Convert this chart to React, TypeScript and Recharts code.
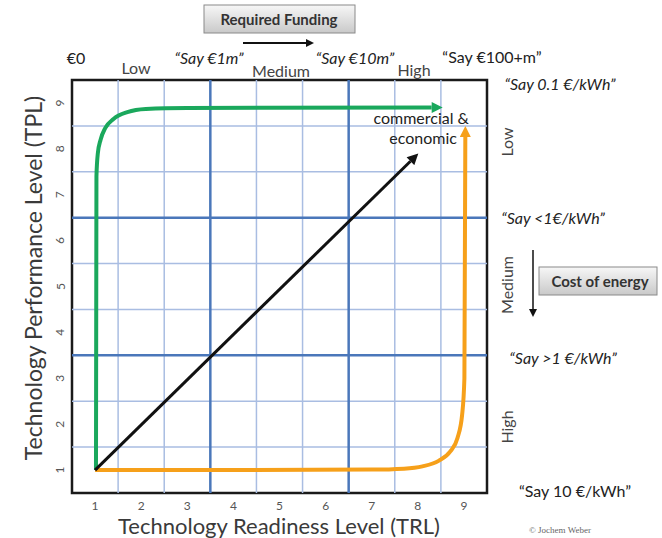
import React from "react";
import {
  LineChart,
  Line,
  XAxis,
  YAxis,
  ReferenceLine,
  ReferenceArea
} from "recharts";

// tick labels on both axes
const trlTicks = [1, 2, 3, 4, 5, 6, 7, 8, 9];
const tplTicks = [1, 2, 3, 4, 5, 6, 7, 8, 9];

// grid lines sit between the integer levels
const minorGrid = [1.5, 2.5, 4.5, 5.5, 7.5, 8.5];
const majorGrid = [3.5, 6.5];

// green: performance first, then readiness
const performanceFirst = [
  { x: 1.02, y: 1 },
  { x: 1.03, y: 7.4 },
  { x: 1.06, y: 7.9 },
  { x: 1.12, y: 8.2 },
  { x: 1.22, y: 8.45 },
  { x: 1.4, y: 8.65 },
  { x: 1.7, y: 8.8 },
  { x: 2.1, y: 8.87 },
  { x: 3, y: 8.89 },
  { x: 8.3, y: 8.9 }
];

// orange: readiness first, then performance
const readinessFirst = [
  { x: 1, y: 1 },
  { x: 4, y: 1 },
  { x: 7, y: 1.01 },
  { x: 7.7, y: 1.03 },
  { x: 8.1, y: 1.08 },
  { x: 8.45, y: 1.2 },
  { x: 8.7, y: 1.4 },
  { x: 8.86, y: 1.7 },
  { x: 8.96, y: 2.2 },
  { x: 9.01, y: 3 },
  { x: 9.03, y: 8.26 }
];

// black: balanced path
const balancedPath = [
  { x: 1, y: 1 },
  { x: 7.84, y: 7.73 }
];

const GREEN = "#1aa85c";
const ORANGE = "#f6a01a";
const MINOR = "#a9bde2";
const MAJOR = "#4a77ba";
const FONT = "Lato, 'Open Sans', sans-serif";

const RotatedTick = (props: any) => {
  const { x, y, payload } = props;
  const cx = x - 4;
  return (
    <text
      x={cx}
      y={y}
      transform={`rotate(-90 ${cx} ${y})`}
      textAnchor="middle"
      dominantBaseline="central"
      fontSize={12}
      fontFamily={FONT}
      fill="#555"
    >
      {payload.value}
    </text>
  );
};

const txt = {
  fontFamily: FONT,
  fontSize: 16,
  fill: "#222"
};

const Arrows = () => (
  <svg width={0} height={0} style={{ position: "absolute" }}>
    <defs>
      <marker id="arrowGreen" viewBox="0 0 10 10" refX="0" refY="5" markerWidth="12" markerHeight="11" markerUnits="userSpaceOnUse" orient="auto">
        <path d="M0,0 L10,5 L0,10 z" fill={GREEN} />
      </marker>
      <marker id="arrowOrange" viewBox="0 0 10 10" refX="0" refY="5" markerWidth="12" markerHeight="11" markerUnits="userSpaceOnUse" orient="auto">
        <path d="M0,0 L10,5 L0,10 z" fill={ORANGE} />
      </marker>
      <marker id="arrowBlack" viewBox="0 0 10 10" refX="0" refY="5" markerWidth="12" markerHeight="11" markerUnits="userSpaceOnUse" orient="auto">
        <path d="M0,0 L10,5 L0,10 z" fill="#111" />
      </marker>
      <marker id="arrowSmall" viewBox="0 0 10 10" refX="0" refY="5" markerWidth="9" markerHeight="8" markerUnits="userSpaceOnUse" orient="auto">
        <path d="M0,0 L10,5 L0,10 z" fill="#111" />
      </marker>
      <linearGradient id="boxFill" x1="0" y1="0" x2="0" y2="1">
        <stop offset="0%" stopColor="#f7f7f7" />
        <stop offset="100%" stopColor="#c9c9c9" />
      </linearGradient>
    </defs>
  </svg>
);

const Annotations = () => (
  <svg
    width={662}
    height={538}
    style={{ position: "absolute", left: 0, top: 0, pointerEvents: "none" }}
  >
    {/* funding scale along the top */}
    <rect x={204} y={5} width={151} height={28} fill="url(#boxFill)" stroke="#8a8a8a" strokeWidth={1} />
    <text x={279} y={19} textAnchor="middle" dominantBaseline="central" {...txt} fontSize={15} fontWeight="bold" fill="#333">
      Required Funding
    </text>
    <line x1={243} y1={43} x2={306} y2={43} stroke="#111" strokeWidth={2} markerEnd="url(#arrowSmall)" />
    <text x={76} y={57} textAnchor="middle" dominantBaseline="central" {...txt}>€0</text>
    <text x={136} y={67} textAnchor="middle" dominantBaseline="central" {...txt} fill="#444">Low</text>
    <text x={209} y={57} textAnchor="middle" dominantBaseline="central" {...txt} fontStyle="italic">“Say €1m”</text>
    <text x={281} y={70} textAnchor="middle" dominantBaseline="central" {...txt} fill="#444">Medium</text>
    <text x={355} y={57} textAnchor="middle" dominantBaseline="central" {...txt} fontStyle="italic">“Say €10m”</text>
    <text x={414} y={69} textAnchor="middle" dominantBaseline="central" {...txt} fill="#444">High</text>
    <text x={492} y={56} textAnchor="middle" dominantBaseline="central" {...txt}>“Say €100+m”</text>

    {/* cost of energy scale on the right */}
    <text x={560} y={83} textAnchor="middle" dominantBaseline="central" {...txt} fontStyle="italic">“Say 0.1 €/kWh”</text>
    <text x={506} y={142} transform="rotate(-90 506 142)" textAnchor="middle" dominantBaseline="central" {...txt} fill="#444">Low</text>
    <text x={553} y={217} textAnchor="middle" dominantBaseline="central" {...txt} fontStyle="italic">“Say &lt;1€/kWh”</text>
    <text x={506} y={285} transform="rotate(-90 506 285)" textAnchor="middle" dominantBaseline="central" {...txt} fill="#444">Medium</text>
    <line x1={533} y1={250} x2={533} y2={309} stroke="#111" strokeWidth={1.5} markerEnd="url(#arrowSmall)" />
    <rect x={539} y={267} width={118} height={28} fill="url(#boxFill)" stroke="#8a8a8a" strokeWidth={1} />
    <text x={600} y={281} textAnchor="middle" dominantBaseline="central" {...txt} fontSize={15} fontWeight="bold" fill="#333">
      Cost of energy
    </text>
    <text x={563} y={357} textAnchor="middle" dominantBaseline="central" {...txt} fontStyle="italic">“Say &gt;1 €/kWh”</text>
    <text x={506} y={427} transform="rotate(-90 506 427)" textAnchor="middle" dominantBaseline="central" {...txt} fill="#444">High</text>
    <text x={575} y={490} textAnchor="middle" dominantBaseline="central" {...txt}>“Say 10 €/kWh”</text>
    <text x={560} y={530} textAnchor="middle" dominantBaseline="central" fontFamily="'Liberation Serif', serif" fontSize={9} fill="#666">
      © Jochem Weber
    </text>

    {/* end point label inside the plot */}
    <text x={469} y={117} textAnchor="end" dominantBaseline="central" {...txt}>commercial &amp;</text>
    <text x={457} y={137} textAnchor="end" dominantBaseline="central" {...txt}>economic</text>

    {/* axis titles */}
    <text x={279} y={525} textAnchor="middle" dominantBaseline="central" fontFamily={FONT} fontSize={22} fill="#3a3a3a">
      Technology Readiness Level (TRL)
    </text>
    <text x={33} y={278} transform="rotate(-90 33 278)" textAnchor="middle" dominantBaseline="central" fontFamily={FONT} fontSize={23} fill="#3a3a3a">
      Technology Performance Level (TPL)
    </text>
  </svg>
);

export default function App() {
  return (
    <div style={{ position: "absolute", left: 0, top: 0, width: 662, height: 538, background: "#fff" }}>
      <Arrows />
      <LineChart
        width={662}
        height={538}
        margin={{ top: 80, right: 175, bottom: 15, left: 42 }}
      >
        <XAxis
          type="number"
          dataKey="x"
          domain={[0.5, 9.5]}
          ticks={trlTicks}
          allowDataOverflow
          axisLine={false}
          tickLine={false}
          height={30}
          tick={{ fontSize: 12, fontFamily: FONT, fill: "#555" }}
        />
        <YAxis
          type="number"
          dataKey="y"
          domain={[0.5, 9.5]}
          ticks={tplTicks}
          allowDataOverflow
          axisLine={false}
          tickLine={false}
          width={30}
          tick={<RotatedTick />}
        />
        {minorGrid.map((v) => (
          <ReferenceLine key={`vx${v}`} x={v} stroke={MINOR} strokeWidth={1.5} />
        ))}
        {minorGrid.map((v) => (
          <ReferenceLine key={`hy${v}`} y={v} stroke={MINOR} strokeWidth={1.5} />
        ))}
        {majorGrid.map((v) => (
          <ReferenceLine key={`VX${v}`} x={v} stroke={MAJOR} strokeWidth={2.5} />
        ))}
        {majorGrid.map((v) => (
          <ReferenceLine key={`HY${v}`} y={v} stroke={MAJOR} strokeWidth={2.5} />
        ))}
        <ReferenceArea
          x1={0.5}
          x2={9.5}
          y1={0.5}
          y2={9.5}
          fill="none"
          stroke="#1a1a1a"
          strokeWidth={2.5}
        />
        <Line
          data={readinessFirst}
          dataKey="y"
          type="monotone"
          stroke={ORANGE}
          strokeWidth={4}
          dot={false}
          markerEnd="url(#arrowOrange)"
          isAnimationActive={false}
        />
        <Line
          data={performanceFirst}
          dataKey="y"
          type="monotone"
          stroke={GREEN}
          strokeWidth={4}
          dot={false}
          markerEnd="url(#arrowGreen)"
          isAnimationActive={false}
        />
        <Line
          data={balancedPath}
          dataKey="y"
          type="linear"
          stroke="#111"
          strokeWidth={3}
          dot={false}
          markerEnd="url(#arrowBlack)"
          isAnimationActive={false}
        />
      </LineChart>
      <Annotations />
    </div>
  );
}
